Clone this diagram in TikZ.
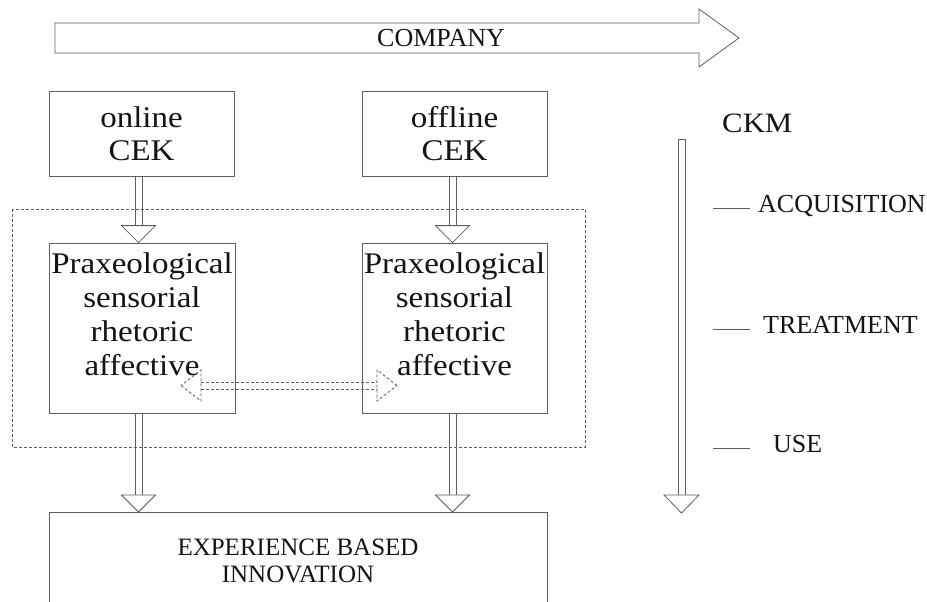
\documentclass[tikz,border=0pt]{standalone}
\usepackage{fontspec}
\setmainfont{Liberation Serif}
\newfontfamily\widefont[FakeStretch=1.1]{Liberation Serif}
\usepackage{xcolor}
\usetikzlibrary{positioning, calc}
\definecolor{linegray}{HTML}{5E5E5E}
\definecolor{inkgray}{HTML}{141414}
\newcommand{\fathead}[5][]{%
	\draw[#1] (#3) -- ($(#3)!#4!(#2)!#5!90:(#3)$) -- ($(#3)!#4!(#2)!#5!-90:(#3)$) -- cycle;}
\newcommand{\fatshaft}[5][]{%
	\draw[#1] ($(#2)!#4!(#3)!3.5pt!90:(#3)$) -- ($(#3)!#5!(#2)!3.5pt!90:(#3)$);
	\draw[#1] ($(#2)!#4!(#3)!3.5pt!-90:(#3)$) -- ($(#3)!#5!(#2)!3.5pt!-90:(#3)$);}

\begin{document}
\begin{tikzpicture}[x=1pt, y=-1pt,
		cekbox/.style={draw=linegray, line width=0.8pt, inner sep=0pt, text=inkgray, align=center, font=\widefont\fontsize{30}{33}\selectfont},
		boxtext/.style={inner sep=0pt, text=inkgray, align=center, font=\widefont\fontsize{30}{34}\selectfont},
		smalltext/.style={inner sep=0pt, text=inkgray, font=\fontsize{26}{27}\selectfont},
		shaft/.style={draw=linegray, line width=0.8pt},
		headline/.style={draw=linegray, fill=white, line width=0.8pt},
		dashline/.style={draw=linegray, line width=0.8pt, dash pattern=on 3pt off 2pt}]
	\useasboundingbox (0,0) rectangle (927,602);
	\fill[white] (0,0) rectangle (927,602);
	\clip (0,0) rectangle (927,602);

	\draw[shaft] (55,23) -- (699,23) -- (699,9) -- (739,38) -- (699,67) -- (699,53) -- (55,53) -- cycle;
	\node[smalltext, anchor=base] (company) at (441,47) {COMPANY};

	\node[cekbox, minimum width=185pt, minimum height=85pt] (online) at (141.5,133.5) {online\\CEK};
	\node[cekbox, minimum width=185pt, minimum height=85pt] (offline) at (454.5,133.5) {offline\\CEK};

	\draw[dashline] (12,209) rectangle (585,447);

	\node[cekbox, minimum width=186pt, minimum height=170pt] (praxL) at (142,328) {};
	\node[boxtext, anchor=north] (praxLtext) at (142,252.5) {Praxeological\\sensorial\\rhetoric\\affective};
	\node[cekbox, minimum width=185pt, minimum height=170pt] (praxR) at (454.5,328) {};
	\node[boxtext, anchor=north] (praxRtext) at (454.5,252.5) {Praxeological\\sensorial\\rhetoric\\affective};

	\node[cekbox, minimum width=498pt, minimum height=150pt, anchor=north] (ebi) at (298,512) {};
	\node[smalltext, align=center, anchor=north, font=\fontsize{25}{27}\selectfont] (ebitext) at (298,538.5) {EXPERIENCE BASED\\INNOVATION};

	\coordinate (onlineout) at ([xshift=-3pt]online.south);
	\coordinate (praxLin) at (onlineout |- praxL.north);
	\coordinate (praxLout) at (onlineout |- praxL.south);
	\coordinate (offlineout) at ([xshift=-2pt]offline.south);
	\coordinate (praxRin) at (offlineout |- praxR.north);
	\coordinate (praxRout) at (offlineout |- praxR.south);
	\coordinate (ebiL) at (praxLout |- ebi.north);
	\coordinate (ebiR) at (praxRout |- ebi.north);

	\foreach \from/\to in {onlineout/praxLin, offlineout/praxRin, praxLout/ebiL, praxRout/ebiR} {
		\fatshaft[shaft]{\from}{\to}{0pt}{17pt}
		\fathead[headline]{\from}{\to}{17pt}{17pt}
	}

	\coordinate (dashL) at (181,385.5);
	\coordinate (dashR) at (397,385.5);
	\fatshaft[dashline]{dashL}{dashR}{20pt}{20pt}
	\fathead[dashline]{dashL}{dashR}{20pt}{15.5pt}
	\fathead[dashline]{dashR}{dashL}{20pt}{15.5pt}

	\node[inner sep=0pt, text=inkgray, font=\widefont\fontsize{28}{30}\selectfont, anchor=base west] (ckm) at (722,132) {CKM};
	\coordinate (ckmtop) at (681.5,139);
	\coordinate (ckmtip) at (681.5,513);
	\fatshaft[shaft]{ckmtop}{ckmtip}{0pt}{18pt}
	\draw[shaft] ($(ckmtop)+(-3.5,0)$) -- ($(ckmtop)+(3.5,0)$);
	\fathead[headline]{ckmtop}{ckmtip}{18pt}{17.5pt}

	\foreach \y/\x/\name/\txt in {208/758/acq/ACQUISITION, 329/763/treat/TREATMENT, 448/773/use/USE} {
		\coordinate (\name tick) at (713,\y);
		\draw[shaft] (\name tick) -- ++(37,0);
		\node[smalltext, anchor=base west] (\name) at (\x,\y+4) {\txt};
	}
\end{tikzpicture}
\end{document}
